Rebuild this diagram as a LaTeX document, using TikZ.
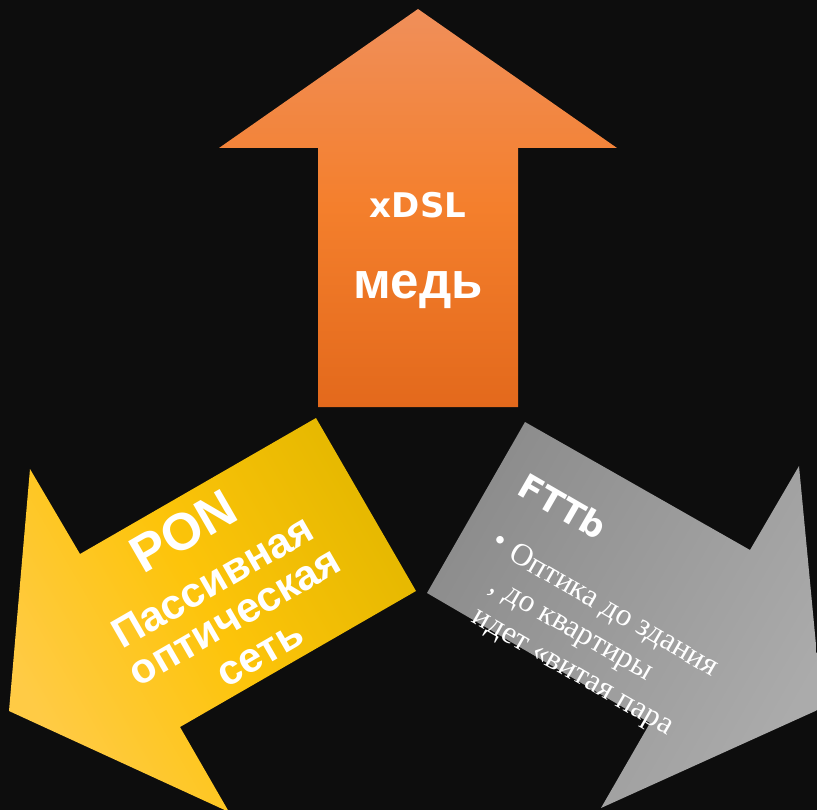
\documentclass[tikz,border=0pt]{standalone}
\usepackage{fontspec}
\setmainfont{Liberation Serif}
\newfontfamily\arialfont{Liberation Sans}
\newfontfamily\dejafont{DejaVu Sans}
\definecolor{bgdark}{HTML}{0D0D0D}
\definecolor{orangetop}{HTML}{F08F5A}
\definecolor{orangemid}{HTML}{F47F2C}
\definecolor{orangebot}{HTML}{E3691C}
\definecolor{yellowlight}{HTML}{FFCB45}
\definecolor{yellowmid}{HTML}{FDC40A}
\definecolor{yellowdark}{HTML}{E5B800}
\definecolor{graydark}{HTML}{8C8C8C}
\definecolor{graylight}{HTML}{ABABAB}
\tikzset{
        treetext/.style={text=white, inner sep=0pt},
        % Arrow bodies
        arrow_xdsl/.style={top color=orangetop, bottom color=orangebot, middle color=orangemid},
        arrow_pon/.style={left color=yellowlight, right color=yellowdark, middle color=yellowmid, shading angle=120},
        arrow_fttb/.style={left color=graydark, right color=graylight, shading angle=60},
        % Bold sans captions
        text_deja/.style={treetext, font=\dejafont\bfseries\fontsize{34}{40}\selectfont},
        text_arial/.style={treetext, font=\arialfont\bfseries\fontsize{42}{48}\selectfont},
        text_arial_big/.style={treetext, font=\arialfont\bfseries\fontsize{51}{58}\selectfont},
        % Bullet text
        text_serif/.style={treetext, font=\fontsize{31.5}{37}\selectfont, rotate=-30, anchor=base west}
}
\begin{document}
\begin{tikzpicture}[x=1pt, y=-1pt]
    \clip (0,0) rectangle (817,810);
    \fill[bgdark] (0,0) rectangle (817,810);
    % Arrows
    \shade[arrow_xdsl] (318,407) -- (318,148) -- (219,148) -- (418,9) -- (617,148) -- (518,148) -- (518,407) -- cycle;
    \shade[arrow_pon] (316,418) -- (80,554) -- (30,469) -- (9,711) -- (229,812) -- (180,727) -- (416,591) -- cycle;
    \shade[arrow_fttb] (525,422) -- (750,550) -- (799,466) -- (822,708) -- (601,808) -- (650,723) -- (427,593) -- cycle;
    % Top arrow
    \node[text_deja, anchor=base] (xdsl) at (418,218) {xDSL};
    \node[text_arial_big, anchor=base] (copper) at (418,299) {медь};
    % Left arrow
    \node[text_arial, font=\arialfont\bfseries\fontsize{52}{58}\selectfont, rotate=30, anchor=base] (pon) at (192.5,546.5) {PON};
    \node[text_arial, rotate=30, anchor=base] (passive) at (219.5,593.5) {Пассивная};
    \node[text_arial, rotate=30, anchor=base] (optical) at (241.5,628.5) {оптическая};
    \node[text_arial, rotate=30, anchor=base] (network) at (266.5,665) {сеть};
    % Right arrow
    \node[text_deja, rotate=-30, anchor=base west] (fttb) at (515.4,493.5) {FTTb};
    \node[text_serif] (bullet) at (490,546) {•};
    \node[text_serif] (line_a) at (507,558.6) {Оптика до здания};
    \node[text_serif] (line_b) at (488.75,590.2) {, до квартиры};
    \node[text_serif] (line_c) at (470.5,621.8) {идет «витая пара};
\end{tikzpicture}
\end{document}
